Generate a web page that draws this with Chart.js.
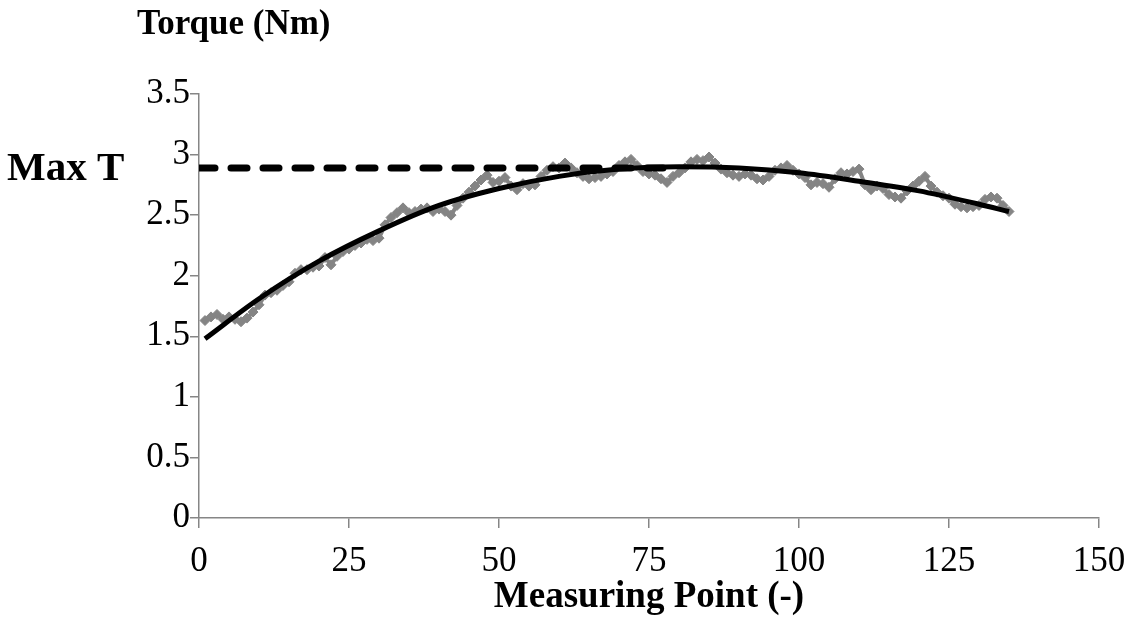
<!DOCTYPE html>
<html>
<head>
<meta charset="utf-8">
<script src="https://cdn.jsdelivr.net/npm/chart.js@4/dist/chart.umd.min.js"></script>
<style>
  html, body { margin: 0; padding: 0; background: #fff; }
  #wrap { width: 1131px; height: 632px; }
</style>
</head>
<body>
<div id="wrap"><canvas id="torqueChart" width="1131" height="632"></canvas></div>
<script>
// measured torque, one value per measuring point (1..135)
const torque = [
  1.63, 1.66, 1.68, 1.64, 1.66, 1.64, 1.62, 1.65, 1.70, 1.76,
  1.84, 1.86, 1.88, 1.92, 1.95, 2.02, 2.05, 2.05, 2.07, 2.08,
  2.15, 2.09, 2.16, 2.20, 2.22, 2.25, 2.27, 2.30, 2.29, 2.31,
  2.42, 2.48, 2.52, 2.56, 2.52, 2.53, 2.55, 2.56, 2.53, 2.55,
  2.53, 2.50, 2.58, 2.64, 2.69, 2.74, 2.79, 2.83, 2.77, 2.78,
  2.81, 2.74, 2.71, 2.76, 2.74, 2.75, 2.82, 2.87, 2.90, 2.89,
  2.93, 2.89, 2.85, 2.82, 2.80, 2.81, 2.82, 2.84, 2.86, 2.91,
  2.94, 2.96, 2.91, 2.86, 2.84, 2.83, 2.80, 2.77, 2.82, 2.85,
  2.89, 2.94, 2.96, 2.95, 2.98, 2.93, 2.88, 2.85, 2.83, 2.82,
  2.84, 2.83, 2.80, 2.79, 2.82, 2.87, 2.89, 2.91, 2.87, 2.84,
  2.81, 2.75, 2.77, 2.76, 2.73, 2.80, 2.85, 2.84, 2.86, 2.88,
  2.75, 2.71, 2.74, 2.72, 2.67, 2.65, 2.64, 2.70, 2.74, 2.78,
  2.82, 2.74, 2.69, 2.66, 2.64, 2.59, 2.57, 2.56, 2.57, 2.58,
  2.63, 2.65, 2.64, 2.58, 2.53
];

// fitted trend curve
const trendX = [1, 10, 20, 30, 40, 50, 60, 70, 80, 90, 100, 110, 120, 130, 135];
const trendY = [1.48, 1.81, 2.12, 2.37, 2.58, 2.72, 2.82, 2.88, 2.90, 2.89, 2.85, 2.78, 2.70, 2.59, 2.53];

// max torque reference line
const maxT = 2.89;
const maxTx = [0, 80];

const xTicks = [0, 25, 50, 75, 100, 125, 150];
const yTicks = ['0', '0.5', '1', '1.5', '2', '2.5', '3', '3.5'];

const axisGray = '#868686';
const serif = '"Liberation Serif", "Times New Roman", serif';

const measured = torque.map((v, i) => ({ x: i + 1, y: v }));
const trend = trendX.map((x, i) => ({ x, y: trendY[i] }));
const maxLine = maxTx.map(x => ({ x, y: maxT }));

const labelPlugin = {
  id: 'labels',
  afterDraw(chart) {
    const { ctx, chartArea, scales } = chart;
    ctx.save();
    ctx.fillStyle = '#000';
    ctx.textBaseline = 'alphabetic';
    ctx.font = 'bold 35px ' + serif;
    ctx.textAlign = 'left';
    ctx.fillText('Torque (Nm)', 137, 34);
    ctx.font = 'bold 41px ' + serif;
    ctx.fillText('Max T', 7, scales.y.getPixelForValue(maxT) + 12);
    ctx.font = 'bold 37px ' + serif;
    ctx.textAlign = 'center';
    ctx.fillText('Measuring Point (-)', (chartArea.left + chartArea.right) / 2, 607);
    ctx.restore();
  }
};

new Chart(document.getElementById('torqueChart'), {
  type: 'line',
  data: {
    datasets: [
      {
        data: maxLine,
        borderColor: '#000',
        borderWidth: 7,
        borderDash: [16, 16],
        borderCapStyle: 'round',
        pointRadius: 0
      },
      {
        data: trend,
        borderColor: '#000',
        borderWidth: 5,
        cubicInterpolationMode: 'monotone',
        pointRadius: 0
      },
      {
        data: measured,
        borderColor: '#848484',
        borderWidth: 4,
        pointStyle: 'rectRot',
        pointRadius: 5,
        pointBackgroundColor: '#848484',
        pointBorderColor: '#848484',
        pointBorderWidth: 1,
        tension: 0
      }
    ]
  },
  options: {
    responsive: false,
    animation: false,
    layout: { padding: { top: 94, right: 32, left: 0, bottom: 0 } },
    plugins: { legend: { display: false }, tooltip: { enabled: false } },
    scales: {
      x: {
        type: 'linear',
        min: 0,
        max: 150,
        afterFit: s => { s.height = 114; s.paddingLeft = 0; s.paddingRight = 0; },
        afterBuildTicks: s => { s.ticks = xTicks.map(v => ({ value: v })); },
        grid: { drawOnChartArea: false, drawTicks: true, tickLength: 10, color: axisGray, lineWidth: 1.5 },
        border: { color: axisGray, width: 1.5 },
        ticks: { color: '#000', padding: 13, maxRotation: 0, font: { family: serif, size: 35 } }
      },
      y: {
        type: 'linear',
        min: 0,
        max: 3.5,
        afterFit: s => { s.width = 199; s.paddingTop = 0; s.paddingBottom = 0; },
        afterBuildTicks: s => { s.ticks = yTicks.map(t => ({ value: parseFloat(t) })); },
        grid: { drawOnChartArea: false, drawTicks: true, tickLength: 9, color: axisGray, lineWidth: 1.5 },
        border: { color: axisGray, width: 1.5 },
        ticks: {
          color: '#000',
          padding: 0,
          font: { family: serif, size: 35 },
          callback: (v, i) => yTicks[i]
        }
      }
    }
  },
  plugins: [labelPlugin]
});
</script>
</body>
</html>
